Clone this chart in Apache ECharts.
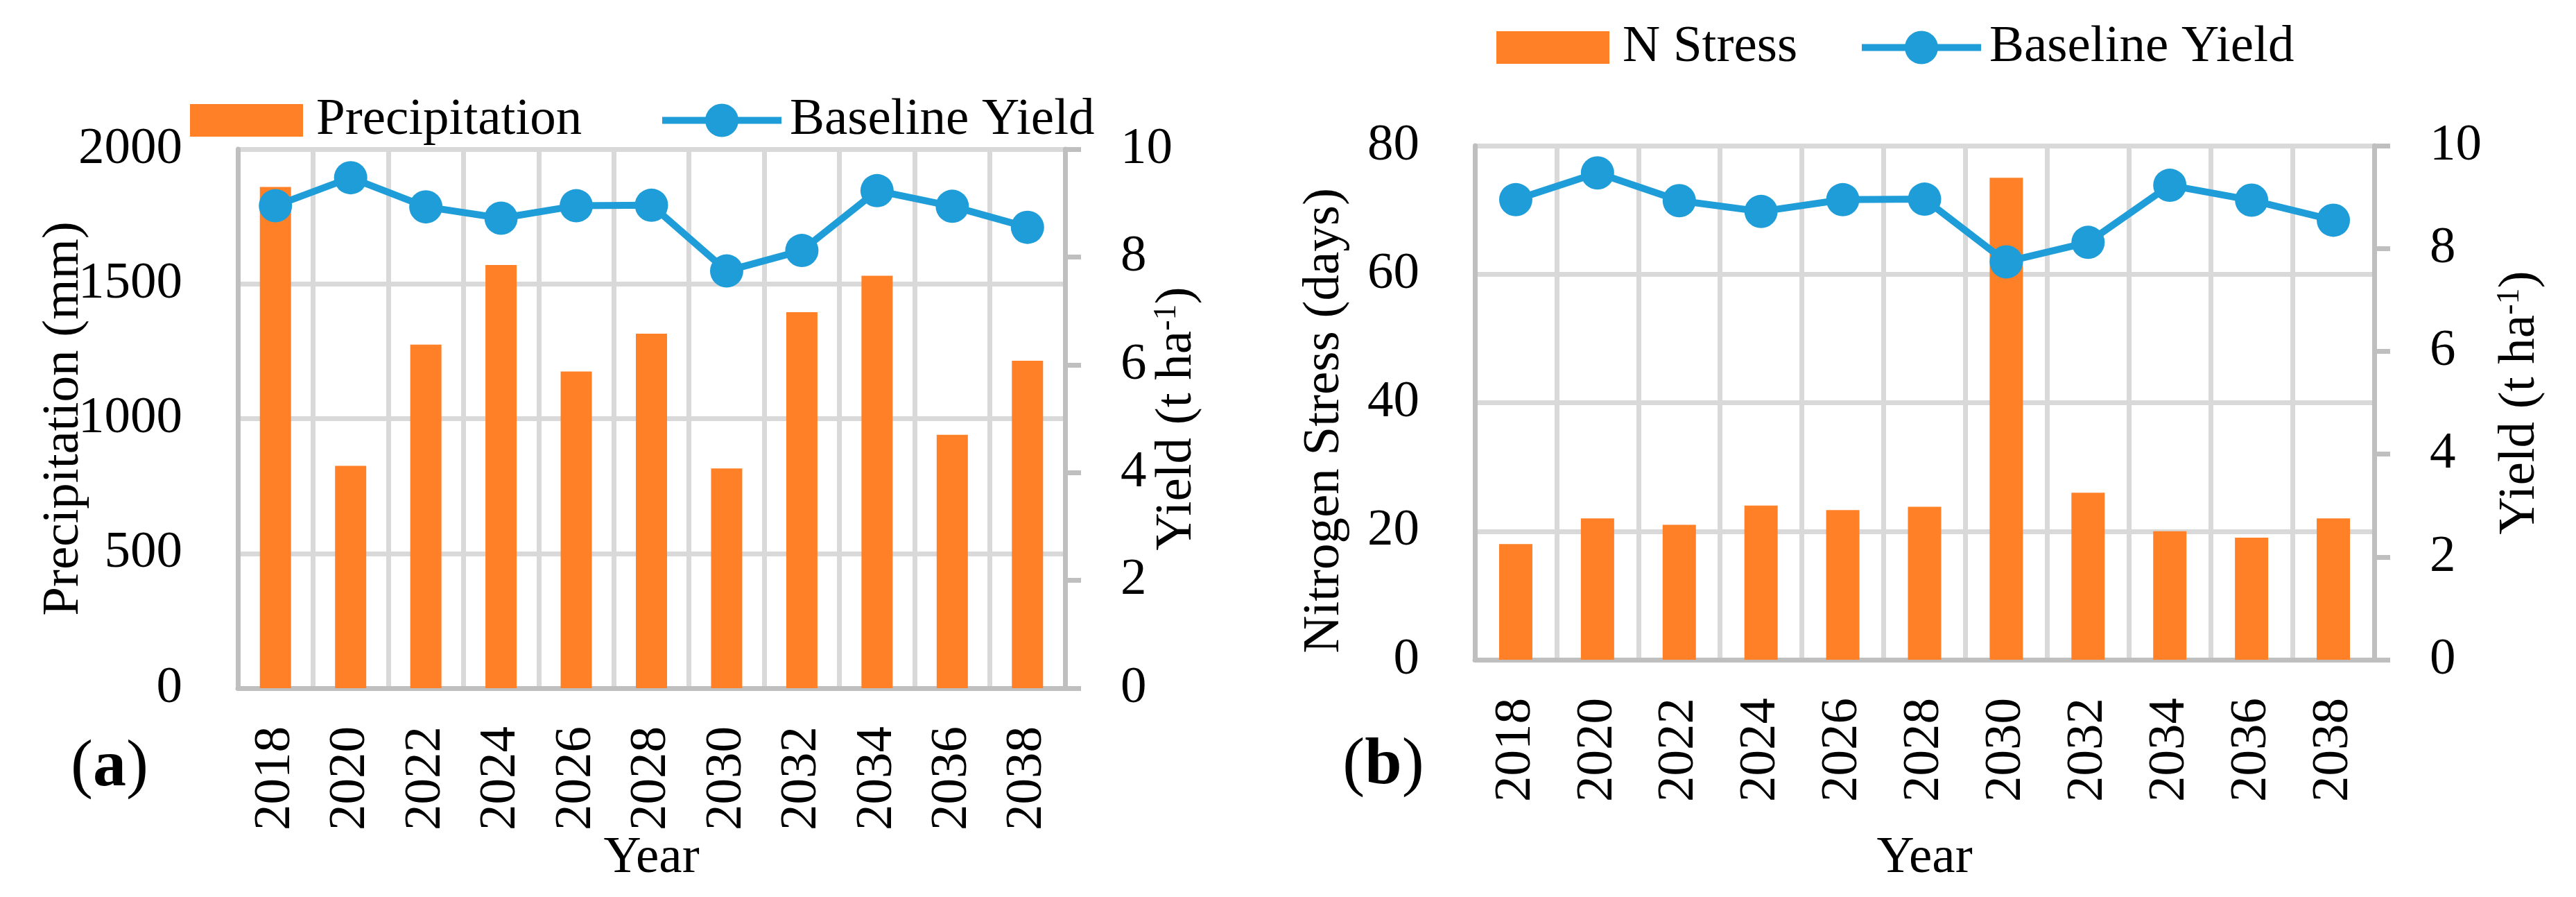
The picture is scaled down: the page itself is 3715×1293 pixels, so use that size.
<!DOCTYPE html>
<html>
<head>
<meta charset="utf-8">
<script src="https://cdn.jsdelivr.net/npm/echarts@6/dist/echarts.min.js"></script>
<style>
html,body{margin:0;padding:0;background:#fff;}
#chart{width:3715px;height:1293px;}
</style>
</head>
<body>
<div id="chart"></div>
<script>
// ---- data ----
const years = ['2018','2020','2022','2024','2026','2028','2030','2032','2034','2036','2038'];
const precipitation = [1860, 825, 1275, 1570, 1175, 1315, 815, 1395, 1530, 940, 1215];
const nStress = [18, 22, 21, 24, 23.3, 23.8, 75, 26, 20, 19, 22];
const baselineYield = [8.95, 9.47, 8.93, 8.72, 8.95, 8.96, 7.74, 8.12, 9.23, 8.94, 8.55];
const precipAxisRange = [0, 2000, 500];
const stressAxisRange = [0, 80, 20];
const yieldAxisRange = [0, 10, 2];

// ---- styles ----
const FONT = 'Liberation Serif';
const FS = 75;
const ORANGE = '#FF8026';
const BLUE = '#1F9DD8';
const GRID_C = '#d9d9d9';
const AXIS_C = '#bfbfbf';
const txt = {fontFamily: FONT, fontSize: FS, color: '#000'};
const supRich = {sup: {fontFamily: FONT, fontSize: 46, color: '#000', verticalAlign: 'top'}};
const plainNum = v => String(v);

function xAxisCfg(gridIndex, nameGap) {
  return {
    type: 'category', gridIndex, data: years, boundaryGap: true,
    axisLine: {show: true, lineStyle: {color: AXIS_C, width: 7}},
    axisTick: {show: false},
    splitLine: {show: true, interval: 0, lineStyle: {color: GRID_C, width: 7}},
    axisLabel: Object.assign({rotate: 90, margin: 55, interval: 0}, txt),
    name: 'Year', nameLocation: 'middle', nameGap, nameMoveOverlap: false,
    nameTextStyle: Object.assign({}, txt)
  };
}
function leftAxisCfg(gridIndex, range, name, nameGap, extraName) {
  return {
    type: 'value', gridIndex, position: 'left', min: range[0], max: range[1], interval: range[2],
    axisLine: {show: true, lineStyle: {color: AXIS_C, width: 7}},
    axisTick: {show: false},
    splitLine: {show: true, lineStyle: {color: GRID_C, width: 7}},
    axisLabel: Object.assign({margin: 80, formatter: plainNum}, txt),
    name, nameLocation: 'middle', nameGap, nameMoveOverlap: false,
    nameTextStyle: Object.assign({}, txt, extraName || {})
  };
}
function rightAxisCfg(gridIndex, nameGap) {
  return {
    type: 'value', gridIndex, position: 'right',
    min: yieldAxisRange[0], max: yieldAxisRange[1], interval: yieldAxisRange[2],
    axisLine: {show: true, lineStyle: {color: AXIS_C, width: 7}},
    axisTick: {show: true, inside: false, length: 23, lineStyle: {color: AXIS_C, width: 7}},
    splitLine: {show: false},
    axisLabel: Object.assign({margin: 80, formatter: plainNum}, txt),
    name: 'Yield (t ha{sup|-1})', nameLocation: 'middle', nameGap, nameMoveOverlap: false,
    nameTextStyle: Object.assign({rich: supRich}, txt)
  };
}
function legendCfg(name, left, top, isBar, gap) {
  const l = {
    left, top, data: [name], selectedMode: false,
    itemWidth: isBar ? 163 : 172, itemHeight: isBar ? 47 : 60,
    textStyle: Object.assign({padding: [0, 0, 0, gap]}, txt)
  };
  if (isBar) l.icon = 'rect';
  else l.lineStyle = {width: 10, color: BLUE};
  return l;
}

const chart = echarts.init(document.getElementById('chart'), null, {renderer: 'canvas'});
chart.setOption({
  animation: false,
  backgroundColor: '#fff',
  textStyle: {fontFamily: FONT},
  grid: [
    {left: 343, top: 215, width: 1193, height: 777},
    {left: 2127, top: 210, width: 1297, height: 741}
  ],
  legend: [
    legendCfg('Precipitation', 269, 131, true, 14),
    legendCfg('Baseline Yield', 945, 131, false, 7),
    legendCfg('N Stress', 2153, 26, true, 14),
    legendCfg('Baseline Yield', 2675, 26, false, 7)
  ],
  xAxis: [xAxisCfg(0, 208), xAxisCfg(1, 249)],
  yAxis: [
    leftAxisCfg(0, precipAxisRange, 'Precipitation (mm)', 213),
    rightAxisCfg(0, 124),
    leftAxisCfg(1, stressAxisRange, 'Nitrogen Stress (days)', 179, {padding: [0, 52, 0, 0]}),
    rightAxisCfg(1, 173)
  ],
  series: [
    {name: 'Precipitation', type: 'bar', xAxisIndex: 0, yAxisIndex: 0, data: precipitation,
     barWidth: 45, itemStyle: {color: ORANGE}},
    {name: 'Baseline Yield', type: 'line', xAxisIndex: 0, yAxisIndex: 1, data: baselineYield,
     symbol: 'circle', symbolSize: 48, itemStyle: {color: BLUE}, lineStyle: {color: BLUE, width: 10}, z: 5},
    {name: 'N Stress', type: 'bar', xAxisIndex: 1, yAxisIndex: 2, data: nStress,
     barWidth: 48, itemStyle: {color: ORANGE}},
    {name: 'Baseline Yield', type: 'line', xAxisIndex: 1, yAxisIndex: 3, data: baselineYield,
     symbol: 'circle', symbolSize: 48, itemStyle: {color: BLUE}, lineStyle: {color: BLUE, width: 10}, z: 5}
  ],
  graphic: [
    {type: 'text', x: 158, y: 1107, style: {text: '{p|(}{b|a}{p|)}', align: 'center', verticalAlign: 'middle',
      rich: {p: {fontFamily: FONT, fontSize: 96, fill: '#000'}, b: {fontFamily: FONT, fontSize: 96, fontWeight: 'bold', fill: '#000'}}}},
    {type: 'text', x: 1995, y: 1104, style: {text: '{p|(}{b|b}{p|)}', align: 'center', verticalAlign: 'middle',
      rich: {p: {fontFamily: FONT, fontSize: 96, fill: '#000'}, b: {fontFamily: FONT, fontSize: 96, fontWeight: 'bold', fill: '#000'}}}}
  ]
});
</script>
</body>
</html>
